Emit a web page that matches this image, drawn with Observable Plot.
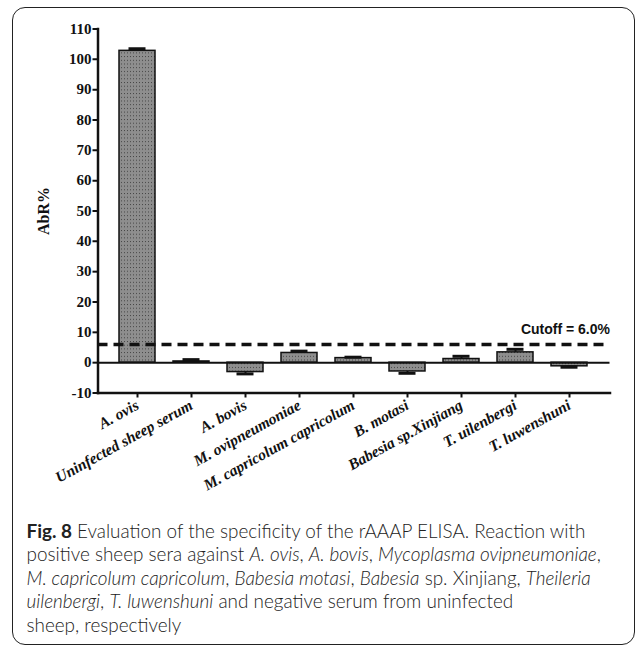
<!DOCTYPE html>
<html><head><meta charset="utf-8">
<script src="https://cdn.jsdelivr.net/npm/d3@7"></script>
<script src="https://cdn.jsdelivr.net/npm/@observablehq/plot@0.6"></script>
<style>
body{margin:0;background:#fff;}
#box{position:absolute;left:12px;top:7px;width:623px;height:638px;border:1.5px solid #222;border-radius:13px;box-sizing:border-box;overflow:hidden}
#chart{position:absolute;left:0;top:0}
#cap{position:absolute;left:13.5px;top:510.5px;font-family:Lato,sans-serif;font-weight:300;font-size:18.9px;line-height:23.5px;color:#222;white-space:nowrap}
#cap b{font-weight:bold}
</style></head>
<body>
<div id="box"><div id="chart"></div>
<div id="cap"><b>Fig. 8</b> Evaluation of the specificity of the rAAAP ELISA. Reaction with<br>positive sheep sera against <i>A. ovis</i>, <i>A. bovis</i>, <i>Mycoplasma ovipneumoniae</i>,<br><i>M. capricolum capricolum</i>, <i>Babesia motasi</i>, <i>Babesia</i> sp. Xinjiang, <i>Theileria</i><br><i>uilenbergi</i>, <i>T. luwenshuni</i> and negative serum from uninfected<br>sheep, respectively</div>
</div>
<script>
const categories = ["A. ovis", "Uninfected sheep serum", "A. bovis", "M. ovipneumoniae", "M. capricolum capricolum", "B. motasi", "Babesia sp.Xinjiang", "T. uilenbergi", "T. luwenshuni"];
const values = [102.8, 0.4, -3.1, 3.2, 1.5, -2.9, 1.2, 3.4, -1.2];
const errors = [0.7, 0.6, 0.6, 0.6, 0.3, 0.6, 0.9, 1.0, 0.3];
const cutoff = 6.0;
const yTicks = [-10, 0, 10, 20, 30, 40, 50, 60, 70, 80, 90, 100, 110];

const data = categories.map((c, i) => ({
  cat: c, v: values[i],
  e: values[i] >= 0 ? values[i] + errors[i] : values[i] - errors[i]
}));

const chart = Plot.plot({
  width: 620, height: 505,
  marginLeft: 84.5, marginRight: 23.5, marginTop: 20.5, marginBottom: 120.5,
  style: {fontFamily: "'Liberation Serif', serif", background: "transparent", color: "#111"},
  x: {domain: categories, paddingInner: 0.325, paddingOuter: 0.335, label: null},
  y: {domain: [-10, 110], label: null},
  marks: [
    Plot.barY(data, {x: "cat", y: "v", fill: "#8c8c8c", stroke: "#111", strokeWidth: 1.5}),
    Plot.ruleX(data, {x: "cat", y1: "v", y2: "e", stroke: "#111", strokeWidth: 2}),
    Plot.tickY(data, {x: "cat", y: "e", stroke: "#111", strokeWidth: 3, inset: 9.5}),
    Plot.ruleY([0], {stroke: "#111", strokeWidth: 2}),
    Plot.ruleY([cutoff], {stroke: "#111", strokeWidth: 3.5, strokeDasharray: "10,6"}),
    Plot.text([cutoff], {y: d => d, frameAnchor: "right", text: d => `Cutoff = ${d.toFixed(1)}%`, dy: -15,
      fontFamily: "'Liberation Sans', Arial, sans-serif", fontWeight: "bold", fontSize: 14, fill: "#111"}),
    Plot.axisY({ticks: yTicks, tickFormat: d => String(d), tickSize: 5, tickPadding: 1.5, fontWeight: "bold", fontSize: 15, strokeWidth: 2,
      label: "AbR%", labelAnchor: "center", labelOffset: 60, labelArrow: "none"}),
    Plot.axisX({tickSize: 5, tickPadding: 6, tickRotate: -29, fontStyle: "italic", fontWeight: "bold", fontSize: 15.5, strokeWidth: 2, label: null}),
    Plot.frame({anchor: "left", strokeWidth: 2.5, stroke: "#111"}),
    Plot.frame({anchor: "bottom", strokeWidth: 2.5, stroke: "#111"})
  ]
});

// dotted pattern fill for bars
const svg = d3.select(chart);
const defs = svg.insert("defs", ":first-child");
const pat = defs.append("pattern").attr("id", "dots").attr("patternUnits", "userSpaceOnUse")
  .attr("width", 3).attr("height", 3.7);
pat.append("rect").attr("width", 3).attr("height", 3.7).attr("fill", "#8e8e8e");
pat.append("rect").attr("width", 1).attr("height", 1).attr("fill", "#444");
svg.selectAll("g[aria-label='bar'] rect").attr("fill", "url(#dots)");
svg.selectAll("g[aria-label='y-axis label'] text, g[aria-label='y-axis label']").attr("font-size", 16).attr("font-weight", "bold");

document.getElementById("chart").appendChild(chart);
</script>
</body></html>
